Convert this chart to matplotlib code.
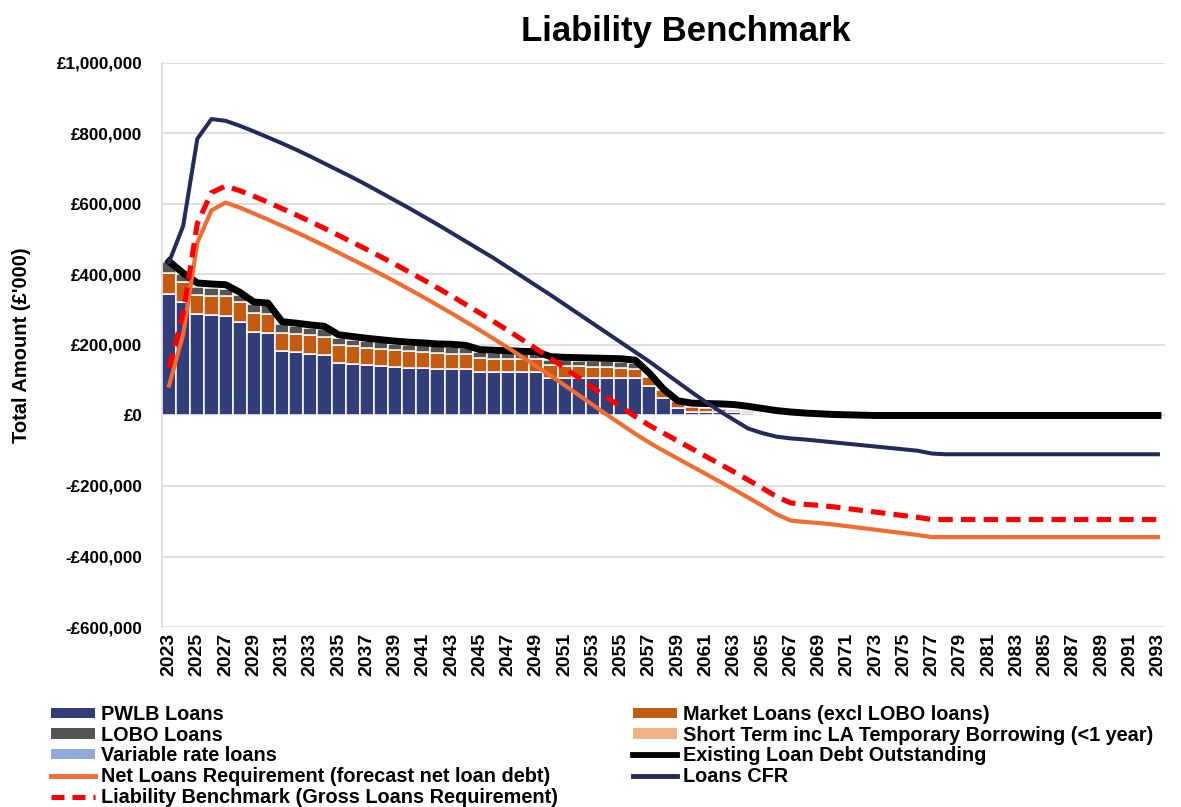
import numpy as np
import matplotlib
matplotlib.use("Agg")
import matplotlib.pyplot as plt
from matplotlib.ticker import FuncFormatter, MultipleLocator
from matplotlib.patches import Patch
from matplotlib.lines import Line2D

plt.rcParams['font.family'] = ['Liberation Sans', 'DejaVu Sans']
plt.rcParams['font.weight'] = 'bold'

years = list(range(2023, 2094))

# values in £'000
pwlb = [345, 322, 287, 284, 282, 266, 237, 234, 182, 179, 175, 172, 148, 145, 142, 140,
        137, 135, 134, 133, 132, 132, 123, 123, 123, 122, 122, 106, 106, 106, 106, 106,
        106, 105, 85, 50, 22, 11, 11, 10, 9, 7, 3, 1] + [0] * 27
market = [58, 57, 56, 56, 56, 55, 54, 54, 52, 52, 52, 52, 52, 52, 50, 49,
          48, 47, 46, 44, 43, 42, 40, 38, 37, 38, 37, 38, 35, 34, 32, 31,
          30, 28, 23, 23, 18, 12, 10, 9, 7, 6, 5, 4, 2] + [0] * 26
lobo = [32, 21, 22, 22, 21, 22, 24, 25, 26, 22, 21, 20, 20, 18, 19, 19,
        19, 19, 19, 19, 20, 18, 17, 17, 17, 15, 15, 14, 16, 16, 17, 17,
        17, 16] + [0] * 37
short_term = [0] * 71
variable = [0] * 71

existing = [437, 404, 376, 373, 371, 350, 322, 319, 266, 262, 257, 253, 229, 224, 219, 215,
            211, 208, 206, 203, 202, 199, 187, 185, 184, 182, 181, 167, 165, 164, 163, 162,
            161, 157, 120, 75, 42, 35, 34, 33, 31, 26, 20, 14, 10, 7, 5, 3, 2, 1] + [0] * 21
net_loans = [85, 230, 490, 582, 604, 590, 573, 556, 538, 520, 501, 482, 462, 442, 422, 401,
             380, 358, 336, 313, 290, 266, 242, 217, 192, 166, 140, 113, 86, 58, 30, 2,
             -25, -52, -77, -100, -122, -144, -166, -188, -210, -233, -256, -280, -298, -302,
             -305, -309, -314, -319, -324, -329, -334, -339, -345] + [-345] * 16
cfr = [435, 538, 785, 841, 836, 822, 806, 789, 772, 754, 735, 715, 695, 675, 654, 632,
       610, 588, 565, 542, 518, 494, 470, 446, 420, 394, 368, 342, 315, 288, 261, 234,
       207, 180, 153, 124, 95, 66, 38, 12, -13, -37, -50, -60, -65, -68, -72, -76, -80,
       -84, -88, -92, -96, -100, -108] + [-110] * 16
benchmark = [135, 290, 545, 632, 651, 638, 622, 605, 587, 569, 550, 531, 511, 491, 471, 450,
             429, 407, 385, 362, 339, 315, 291, 266, 241, 215, 189, 162, 135, 107, 79, 51,
             24, -3, -28, -50, -72, -94, -116, -138, -160, -183, -206, -230, -248, -252,
             -255, -259, -264, -269, -274, -279, -284, -289, -295] + [-295] * 16

C_PWLB = '#323E7A'
C_MARKET = '#C55A11'
C_LOBO = '#555555'
C_SHORT = '#F4B183'
C_VAR = '#8FAADC'
C_EXIST = '#000000'
C_NET = '#F26B2F'
C_CFR = '#222B5C'
C_LB = '#FF0000'

fig = plt.figure(figsize=(11.81, 8.07), dpi=100)
ax = fig.add_axes([162 / 1181, 1 - 627 / 807, (1165 - 162) / 1181, (627 - 63) / 807])

x = np.arange(len(years))
scale = 1000.0
series = [(pwlb, C_PWLB), (market, C_MARKET), (lobo, C_LOBO), (short_term, C_SHORT), (variable, C_VAR)]
bottom = np.zeros(len(years))
for vals, col in series:
    v = np.array(vals, dtype=float) * scale
    h = np.where(v > 0, v, np.nan)
    ax.bar(x, h, bottom=bottom, width=1.0, color=col, edgecolor='white', linewidth=1.1, zorder=2)
    bottom = bottom + v

ax.plot(x, np.array(existing) * scale, color=C_EXIST, lw=5.0, zorder=3, solid_joinstyle='round')
ax.plot(x, np.array(net_loans) * scale, color=C_NET, lw=3.0, zorder=4, solid_joinstyle='round')
ax.plot(x, np.array(cfr) * scale, color=C_CFR, lw=2.9, zorder=5, solid_joinstyle='round')
ax.plot(x, np.array(benchmark) * scale, color=C_LB, lw=3.7, zorder=6, dashes=(2.8, 1.6))

ax.set_xlim(-0.5, len(years) - 0.5)
ax.set_ylim(-600000, 1000000)
ax.yaxis.set_major_locator(MultipleLocator(200000))


def fmt(v, pos):
    v = int(round(v))
    if v < 0:
        return '-£{:,}'.format(-v)
    return '£{:,}'.format(v)


ax.yaxis.set_major_formatter(FuncFormatter(fmt))
ax.set_xticks(x[::2])
ax.set_xticklabels([str(y) for y in years[::2]], rotation=90, fontsize=14, fontweight='bold')
ax.tick_params(axis='y', length=0, pad=14, labelsize=12.3)
ax.tick_params(axis='x', length=0, pad=4)
for lab in ax.get_yticklabels():
    lab.set_fontweight('bold')

ax.grid(axis='y', color='#d9d9d9', lw=1.2, zorder=0)
ax.set_axisbelow(True)
for s in ['top', 'right', 'bottom']:
    ax.spines[s].set_visible(False)
ax.spines['left'].set_color('#d9d9d9')
ax.spines['left'].set_linewidth(1.2)

ax.set_ylabel("Total Amount (£'000)", fontsize=14.5, fontweight='bold')
ax.yaxis.set_label_coords(-0.131, 0.5)

fig.text(686 / 1181, 1 - 32 / 807, 'Liability Benchmark', ha='center', va='center',
         fontsize=25, fontweight='bold')

left_handles = [
    Patch(facecolor=C_PWLB, edgecolor='none'),
    Patch(facecolor=C_LOBO, edgecolor='none'),
    Patch(facecolor=C_VAR, edgecolor='none'),
    Line2D([], [], color=C_NET, lw=3.5),
    Line2D([], [], color=C_LB, lw=3.6, dashes=(2.6, 1.6)),
]
left_labels = ['PWLB Loans', 'LOBO Loans', 'Variable rate loans',
               'Net Loans Requirement (forecast net loan debt)',
               'Liability Benchmark (Gross Loans Requirement)']
right_handles = [
    Patch(facecolor=C_MARKET, edgecolor='none'),
    Patch(facecolor=C_SHORT, edgecolor='none'),
    Line2D([], [], color=C_EXIST, lw=4.2),
    Line2D([], [], color=C_CFR, lw=3.5),
]
right_labels = ['Market Loans (excl LOBO loans)',
                'Short Term inc LA Temporary Borrowing (<1 year)',
                'Existing Loan Debt Outstanding', 'Loans CFR']

lkw = dict(frameon=False, prop={'weight': 'bold', 'size': 14.3}, handlelength=2.2,
           handleheight=0.42, handletextpad=0.3, labelspacing=0.085, borderpad=0, borderaxespad=0)
leg1 = fig.legend(left_handles, left_labels, loc='upper left',
                  bbox_to_anchor=(51 / 1181, 1 - 705 / 807), **lkw)
leg2 = fig.legend(right_handles, right_labels, loc='upper left',
                  bbox_to_anchor=(633 / 1181, 1 - 705 / 807), **lkw)

fig.savefig('out.png', dpi=100)
